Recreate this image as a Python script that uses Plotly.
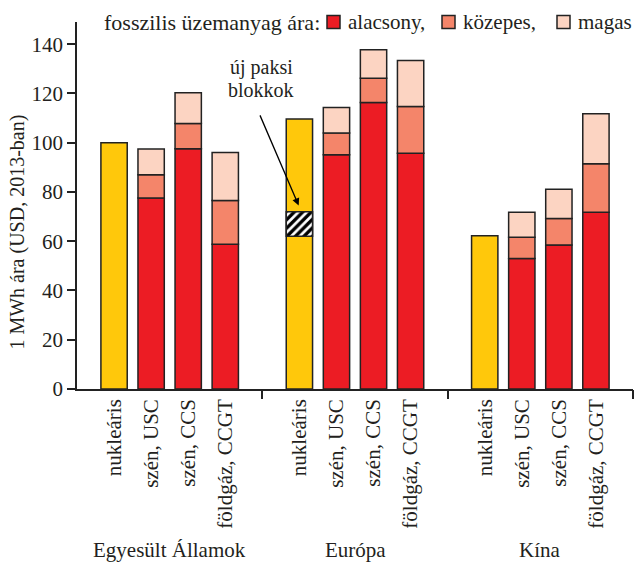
import plotly.graph_objects as go

# ---- data ----
regions = ["Egyesült Államok", "Európa", "Kína"]
techs = ["nukleáris", "szén, USC", "szén, CCS", "földgáz, CCGT"]

nuclear = [100.0, 109.6, 62.2]            # US, Europe, China
paks_bottom = 62.0                         # Europe, new Paks units (hatched band)
paks_top = 72.0

# fossil technologies (USC, CCS, CCGT) per region: cumulative level of each price case
fossil_low = {"Egyesült Államok": [77.5, 97.5, 58.8],
              "Európa": [95.1, 116.3, 95.7],
              "Kína": [53.0, 58.5, 71.8]}
fossil_mid = {"Egyesült Államok": [87.0, 107.8, 76.5],
              "Európa": [103.9, 126.2, 114.7],
              "Kína": [61.6, 69.2, 91.4]}
fossil_high = {"Egyesült Államok": [97.4, 120.3, 96.0],
               "Európa": [114.3, 137.7, 133.4],
               "Kína": [71.8, 81.1, 111.7]}

legend_title = "fosszilis üzemanyag ára:"
price_labels = ["alacsony,", "közepes,", "magas"]
y_title = "1 MWh ára (USD, 2013-ban)"
annot_lines = ["új paksi", "blokkok"]

# ---- styling ----
FONT = "Liberation Serif"
FS = 21
TXT = "#231f20"
YELLOW = "#ffc80b"
RED = "#ec1c24"
MID = "#f4856a"
LIGHT = "#fcd4c2"
EDGE = "#222222"
BW = 0.71

W, H = 636, 564
ML, MR, MT, MB = 77, 3, 22, 175
PW, PH = W - ML - MR, H - MT - MB

def px_x(px):
    return (px - ML) / PW

def px_y(py):
    return (H - MB - py) / PH

fig = go.Figure()

def xpos(g, i):
    return g * 5 + 1 + i

# nuclear bars
fig.add_trace(go.Bar(
    x=[xpos(g, 0) for g in range(3)], y=nuclear, base=[0, 0, 0],
    width=BW, marker=dict(color=YELLOW, line=dict(color=EDGE, width=1.5)),
    showlegend=False, hoverinfo="skip"))

# hatched Paks segment (Europe)
fig.add_trace(go.Bar(
    x=[xpos(1, 0)], y=[paks_top - paks_bottom], base=[paks_bottom],
    width=BW,
    marker=dict(color="white", line=dict(color=EDGE, width=1.5),
                pattern=dict(shape="/", fgcolor="black", bgcolor="white",
                             fgopacity=1, size=6, solidity=0.55)),
    showlegend=False, hoverinfo="skip"))

# fossil stacked segments
xs, lows, mids, highs = [], [], [], []
for g, r in enumerate(regions):
    for i in range(3):
        xs.append(xpos(g, i + 1))
        lows.append(fossil_low[r][i])
        mids.append(fossil_mid[r][i])
        highs.append(fossil_high[r][i])

seg_colors = [RED, MID, LIGHT]
fig.add_trace(go.Bar(
    x=xs, y=lows, base=[0] * len(xs), width=BW, name=price_labels[0],
    marker=dict(color=RED, line=dict(color=EDGE, width=1.5)), hoverinfo="skip",
    showlegend=False))
fig.add_trace(go.Bar(
    x=xs, y=[m - l for m, l in zip(mids, lows)], base=lows, width=BW, name=price_labels[1],
    marker=dict(color=MID, line=dict(color=EDGE, width=1.5)), hoverinfo="skip",
    showlegend=False))
fig.add_trace(go.Bar(
    x=xs, y=[h - m for h, m in zip(highs, mids)], base=mids, width=BW, name=price_labels[2],
    marker=dict(color=LIGHT, line=dict(color=EDGE, width=1.5)), hoverinfo="skip",
    showlegend=False))

# dummy trace to carry the separator ticks on a second x axis
fig.add_trace(go.Scatter(x=[0], y=[0], xaxis="x2", mode="markers",
                         marker=dict(opacity=0), showlegend=False, hoverinfo="skip"))

tickvals = [xpos(g, i) for g in range(3) for i in range(4)]
ticktext = techs * 3

fig.update_layout(
    width=W, height=H,
    margin=dict(l=ML, r=MR, t=MT, b=MB, autoexpand=False),
    paper_bgcolor="white", plot_bgcolor="white",
    barmode="overlay",
    showlegend=False,
    font=dict(family=FONT, size=FS, color=TXT),
    xaxis=dict(range=[0, 15], tickvals=tickvals, ticktext=ticktext, tickangle=-90,
               ticks="", showline=True, linecolor=EDGE, linewidth=1.5,
               showgrid=False, zeroline=False, fixedrange=True, automargin=False,
               tickfont=dict(family=FONT, size=FS, color=TXT)),
    xaxis2=dict(range=[0, 15], overlaying="x", side="bottom", tickvals=[5, 10, 15],
                showticklabels=False, ticks="outside", ticklen=9, tickwidth=1.5,
                tickcolor=EDGE, showgrid=False, zeroline=False, showline=False),
    yaxis=dict(range=[0, 149], dtick=20, ticks="outside", ticklen=8, tickwidth=1.5,
               tickcolor=EDGE, showline=True, linecolor=EDGE, linewidth=1.5,
               showgrid=False, zeroline=False, automargin=False,
               tickfont=dict(family=FONT, size=FS, color=TXT)),
)

# legend (drawn manually)
fig.add_annotation(text=legend_title, xref="paper", yref="paper",
                   x=px_x(322), y=px_y(22), xanchor="right", yanchor="middle",
                   showarrow=False, font=dict(family=FONT, size=22, color=TXT))
sq_left = [327, 442, 557]
for k in range(3):
    x0 = sq_left[k]
    fig.add_shape(type="rect", xref="paper", yref="paper",
                  x0=px_x(x0), x1=px_x(x0 + 13), y0=px_y(28.5), y1=px_y(15.5),
                  fillcolor=seg_colors[k], line=dict(color=EDGE, width=1.5))
    fig.add_annotation(text=price_labels[k], xref="paper", yref="paper",
                       x=px_x(x0 + 19), y=px_y(22), xanchor="left", yanchor="middle",
                       showarrow=False, font=dict(family=FONT, size=FS, color=TXT))

# y-axis title
fig.add_annotation(text=y_title, xref="paper", yref="y", x=px_x(18), y=63.5,
                   xanchor="center", yanchor="middle", textangle=-90, showarrow=False,
                   font=dict(family=FONT, size=20, color=TXT))

# group labels
for g, r in enumerate(regions):
    fig.add_annotation(text=r, xref="x", yref="paper", x=g * 5 + 2.5, y=px_y(550),
                       xanchor="center", yanchor="middle", showarrow=False,
                       font=dict(family=FONT, size=FS, color=TXT))

# Paks annotation: text and arrow
for j, line in enumerate(annot_lines):
    fig.add_annotation(text=line, xref="x", yref="paper", x=4.97, y=px_y(67 + 23 * j),
                       xanchor="center", yanchor="middle", showarrow=False,
                       font=dict(family=FONT, size=20, color=TXT))
fig.add_annotation(text="", xref="x", yref="y", x=5.98, y=74.5,
                   axref="x", ayref="y", ax=4.92, ay=111.7,
                   showarrow=True, arrowhead=2, arrowsize=1.1, arrowwidth=1.3,
                   arrowcolor="black", standoff=0, startstandoff=0)

fig.write_html("out.html", config={"displayModeBar": False},
               post_script="document.body.style.margin='0';")
